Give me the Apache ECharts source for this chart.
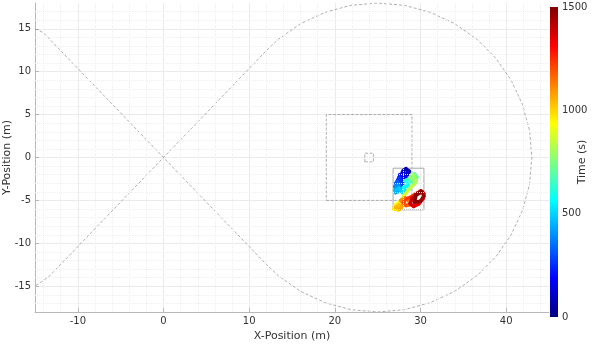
<!DOCTYPE html>
<html>
<head>
<meta charset="utf-8">
<script src="https://cdn.jsdelivr.net/npm/echarts@6/dist/echarts.min.js"></script>
<style>html,body{margin:0;padding:0;background:#fff}#c{width:598px;height:344px}</style>
</head>
<body>
<div id="c"></div>
<script>
// ---- data ----
// track: straight legs through origin tangent to a circle (center 25,0; r 18)
var trackX = [-15, -14, 12.05, 13.43, 16.00, 18.84, 21.87, 25, 28.13, 31.16, 34.00, 36.57, 38.79, 40.59, 41.91, 42.73, 43,
              42.73, 41.91, 40.59, 38.79, 36.57, 34.00, 31.16, 28.13, 25, 21.87, 18.84, 16.00, 13.43, 12.05, -13.4, -15];
var trackY = [15, 14.52, -12.50, -13.79, -15.59, -16.91, -17.73, -18, -17.73, -16.91, -15.59, -13.79, -11.57, -9.00, -6.16, -3.13, 0,
              3.13, 6.16, 9.00, 11.57, 13.79, 15.59, 16.91, 17.73, 18, 17.73, 16.91, 15.59, 13.79, 12.50, -13.9, -15];
var bigBoxX = [19, 29, 29, 19, 19];
var bigBoxY = [-5, -5, 5, 5, -5];
var smallBoxX = [23.5, 24.5, 24.5, 23.5, 23.5];
var smallBoxY = [-0.5, -0.5, 0.5, 0.5, -0.5];
var areaX = [26.8, 30.4, 30.4, 26.8, 26.8];
var areaY = [-6.1, -6.1, -1.25, -1.25, -6.1];
// trajectory (time in s)
var trajT = [0, 15, 30, 45, 60, 75, 90, 105, 120, 135, 150, 165, 180, 195, 210, 225, 240, 255, 270, 285,
             300, 320, 340, 360, 380, 400, 420, 440, 460, 480, 500, 520, 540, 560, 580, 600, 620, 640, 660, 680,
             700, 720, 740, 760, 780, 800, 820, 840, 860, 880, 900, 920, 940, 960, 980, 1000, 1020, 1040, 1060, 1080,
             1100, 1120, 1140, 1160, 1180, 1200, 1220, 1240, 1260, 1280, 1300, 1320, 1340, 1360, 1380, 1400, 1420, 1440, 1460, 1475,
             1485, 1495, 1500];
var trajX = [28.4, 28.7, 28.5, 28.1, 28.0, 28.3, 28.6, 28.2, 27.8, 27.9, 28.3, 27.9, 27.5, 27.6, 28.0, 27.6, 27.3, 27.5, 27.9, 27.4,
             27.1, 27.3, 27.7, 27.2, 27.0, 27.4, 27.6, 27.1, 27.0, 27.5, 27.9, 28.3, 28.0, 28.4, 28.8, 28.5, 28.2, 28.7, 29.0, 28.9,
             29.3, 29.6, 29.2, 28.8, 29.1, 29.5, 29.3, 28.9, 28.5, 28.1, 27.8, 27.4, 27.0, 26.9, 27.4, 27.8, 27.5, 27.1, 27.6, 28.0,
             27.7, 28.2, 28.6, 28.8, 28.3, 28.0, 28.4, 28.9, 29.5, 30.0, 30.4, 30.3, 29.8, 29.2, 28.8, 29.0, 29.6, 30.2, 30.4, 30.0,
             29.3, 29.5, 30.1];
var trajY = [-1.4, -1.6, -2.0, -1.9, -1.5, -1.3, -1.8, -2.2, -2.0, -1.7, -2.4, -2.6, -2.4, -2.0, -2.8, -3.0, -2.7, -2.3, -3.1, -3.3,
             -3.0, -2.8, -3.5, -3.7, -3.4, -3.2, -3.9, -4.1, -3.8, -3.6, -4.1, -3.9, -3.5, -3.3, -3.6, -3.0, -2.7, -2.5, -2.9, -2.2,
             -1.9, -2.3, -2.7, -2.4, -2.0, -2.7, -3.1, -3.4, -3.9, -4.4, -4.9, -5.3, -5.6, -6.0, -6.1, -5.8, -5.5, -5.8, -6.0, -5.5,
             -5.0, -4.7, -5.0, -5.5, -5.6, -5.2, -4.8, -4.6, -4.2, -3.9, -4.2, -4.8, -5.4, -5.7, -5.4, -4.8, -4.3, -4.0, -4.5, -5.1,
             -5.2, -4.3, -3.9];
var minorX = [-14, -12, -8, -6, -4, -2, 2, 4, 6, 8, 12, 14, 16, 18, 22, 24, 26, 28, 32, 34, 36, 38, 42, 44];
var minorY = [-17, -16, -14, -13, -12, -11, -9, -8, -7, -6, -4, -3, -2, -1, 1, 2, 3, 4, 6, 7, 8, 9, 11, 12, 13, 14, 16, 17];
var jet = ['#000080', '#0000ff', '#0080ff', '#00ffff', '#80ff80', '#ffff00', '#ff8000', '#ff0000', '#800000'];
var timeMin = 0, timeMax = 1500;

// ---- build ----
function zip(a, b) { return a.map(function (v, i) { return [v, b[i]]; }); }
var segs = [];
for (var i = 1; i < trajX.length; i++) {
  segs.push([trajX[i - 1], trajY[i - 1], trajX[i], trajY[i], (trajT[i - 1] + trajT[i]) / 2]);
}
var FONT = 'DejaVu Sans';
var grayLine = '#9a9a9a';
var chart = echarts.init(document.getElementById('c'), null, {renderer: 'canvas'});
var stops = jet.map(function (c, i) { return {offset: i / (jet.length - 1), color: c}; });

chart.setOption({
  animation: false,
  textStyle: {fontFamily: FONT},
  grid: [
    {left: 35, right: 49, top: 3, bottom: 32, containLabel: false, outerBoundsMode: 'none'},
    {left: 550, width: 8, top: 7, bottom: 27, containLabel: false, outerBoundsMode: 'none'}
  ],
  xAxis: [
    {type: 'value', min: -15, max: 45, splitNumber: 6, gridIndex: 0,
     name: 'X-Position (m)', nameLocation: 'middle', nameGap: 16,
     nameTextStyle: {fontSize: 11, color: '#333', fontFamily: FONT},
     axisLine: {onZero: false, lineStyle: {color: '#b8b8b8'}},
     axisTick: {inside: true, length: 4, lineStyle: {color: '#b8b8b8'}},
     axisLabel: {fontSize: 10, color: '#333', margin: 4, showMinLabel: false, showMaxLabel: false, fontFamily: FONT},
     splitLine: {show: true, showMinLine: false, showMaxLine: false, lineStyle: {color: '#ebebeb'}}},
    {type: 'value', gridIndex: 1, min: 0, max: 1, show: false}
  ],
  yAxis: [
    {type: 'value', min: -18, max: 18, splitNumber: 7, gridIndex: 0,
     name: 'Y-Position (m)', nameLocation: 'middle', nameGap: 22, nameRotate: 90, nameMoveOverlap: false,
     nameTextStyle: {fontSize: 11, color: '#333', fontFamily: FONT},
     axisLine: {show: true, onZero: false, lineStyle: {color: '#b8b8b8'}},
     axisTick: {show: true, inside: true, length: 4, lineStyle: {color: '#b8b8b8'}},
     axisLabel: {fontSize: 10, color: '#333', margin: 4, showMinLabel: false, showMaxLabel: false, fontFamily: FONT},
     splitLine: {show: true, showMinLine: false, showMaxLine: false, lineStyle: {color: '#ebebeb'}}},
    {type: 'value', gridIndex: 1, min: timeMin, max: timeMax, interval: 500, position: 'right',
     name: 'Time (s)', nameLocation: 'middle', nameGap: 19, nameRotate: 90, nameMoveOverlap: false,
     nameTextStyle: {fontSize: 11, color: '#333', fontFamily: FONT},
     axisLine: {show: false, onZero: false}, axisTick: {show: false}, splitLine: {show: false},
     axisLabel: {fontSize: 10, color: '#333', margin: 4, fontFamily: FONT,
                 formatter: function (v) { return String(v); }}}
  ],
  visualMap: {type: 'continuous', show: false, min: timeMin, max: timeMax, dimension: 4, seriesIndex: 5,
              inRange: {color: jet}},
  series: [
    {type: 'line', data: [], z: 1, silent: true,
     markLine: {silent: true, symbol: ['none', 'none'], label: {show: false}, animation: false,
       lineStyle: {color: '#efefef', type: 'dotted', width: 1},
       data: minorX.map(function (v) { return {xAxis: v}; }).concat(minorY.map(function (v) { return {yAxis: v}; }))}},
    {type: 'line', data: zip(trackX, trackY), showSymbol: false, symbol: 'none', z: 2, silent: true,
     lineStyle: {color: grayLine, width: 0.8, type: [3, 2]}},
    {type: 'line', data: zip(bigBoxX, bigBoxY), showSymbol: false, symbol: 'none', z: 2, silent: true,
     lineStyle: {color: grayLine, width: 0.8, type: [3, 1.5]}},
    {type: 'line', data: zip(smallBoxX, smallBoxY), showSymbol: false, symbol: 'none', z: 2, silent: true,
     lineStyle: {color: grayLine, width: 0.8, type: [3, 1.5]}},
    {type: 'line', data: zip(areaX, areaY), showSymbol: false, symbol: 'none', z: 2, silent: true,
     lineStyle: {color: '#aaaaaa', width: 1}},
    {type: 'custom', data: segs, z: 3, silent: true,
     encode: {x: [0, 2], y: [1, 3]},
     renderItem: function (params, api) {
       var p1 = api.coord([api.value(0), api.value(1)]);
       var p2 = api.coord([api.value(2), api.value(3)]);
       return {type: 'line', shape: {x1: p1[0], y1: p1[1], x2: p2[0], y2: p2[1]},
               style: {stroke: api.visual('color'), lineWidth: 3.5, lineCap: 'round'}};
     }},
    {type: 'custom', xAxisIndex: 1, yAxisIndex: 1, data: [[0, timeMin, 1, timeMax]], silent: true,
     encode: {x: [0, 2], y: [1, 3]},
     renderItem: function (params, api) {
       var p1 = api.coord([api.value(0), api.value(3)]);
       var p2 = api.coord([api.value(2), api.value(1)]);
       return {type: 'rect', shape: {x: p1[0], y: p1[1], width: p2[0] - p1[0], height: p2[1] - p1[1]},
               style: {fill: new echarts.graphic.LinearGradient(0, 1, 0, 0, stops)}};
     }}
  ]
});
</script>
</body>
</html>
